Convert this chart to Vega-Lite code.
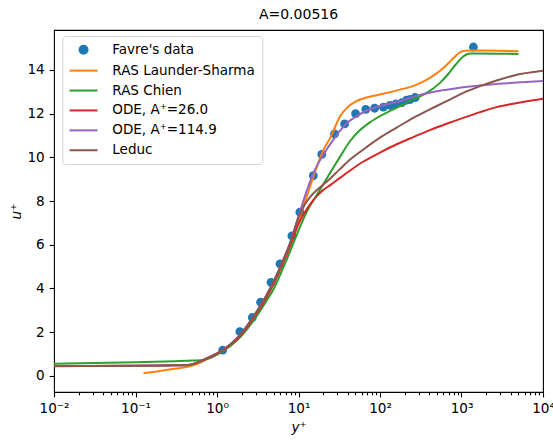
{
  "$schema": "https://vega.github.io/schema/vega-lite/v6.json",
  "width": 489,
  "height": 362,
  "autosize": "none",
  "padding": {"left": 54, "top": 30, "right": 10, "bottom": 51},
  "title": {"text": "A=0.00516", "fontSize": 14, "fontWeight": "normal", "font": "DejaVu Sans", "color": "#000", "offset": 8, "anchor": "middle"},
  "datasets": {
    "favre": [
      {"s": "Favre's data", "x": 1.175, "u": 1.18},
      {"s": "Favre's data", "x": 1.91, "u": 2.02},
      {"s": "Favre's data", "x": 2.71, "u": 2.67},
      {"s": "Favre's data", "x": 3.43, "u": 3.37},
      {"s": "Favre's data", "x": 4.6, "u": 4.28},
      {"s": "Favre's data", "x": 5.93, "u": 5.12},
      {"s": "Favre's data", "x": 8.3, "u": 6.41},
      {"s": "Favre's data", "x": 10.4, "u": 7.49},
      {"s": "Favre's data", "x": 15.2, "u": 9.16},
      {"s": "Favre's data", "x": 19.3, "u": 10.14},
      {"s": "Favre's data", "x": 27.7, "u": 11.07},
      {"s": "Favre's data", "x": 36.8, "u": 11.53},
      {"s": "Favre's data", "x": 50.2, "u": 12.0},
      {"s": "Favre's data", "x": 67, "u": 12.2},
      {"s": "Favre's data", "x": 86, "u": 12.25},
      {"s": "Favre's data", "x": 110, "u": 12.3},
      {"s": "Favre's data", "x": 133, "u": 12.38},
      {"s": "Favre's data", "x": 157, "u": 12.45},
      {"s": "Favre's data", "x": 185, "u": 12.5},
      {"s": "Favre's data", "x": 212, "u": 12.62},
      {"s": "Favre's data", "x": 235, "u": 12.65},
      {"s": "Favre's data", "x": 270, "u": 12.74},
      {"s": "Favre's data", "x": 1400, "u": 15.05}
    ],
    "curves": [
      {"s": "RAS Launder-Sharma", "x": 0.125, "u": 0.12},
      {"s": "RAS Launder-Sharma", "x": 0.2, "u": 0.22},
      {"s": "RAS Launder-Sharma", "x": 0.3, "u": 0.32},
      {"s": "RAS Launder-Sharma", "x": 0.45, "u": 0.42},
      {"s": "RAS Launder-Sharma", "x": 0.6, "u": 0.58},
      {"s": "RAS Launder-Sharma", "x": 0.8, "u": 0.82},
      {"s": "RAS Launder-Sharma", "x": 1.0, "u": 0.98},
      {"s": "RAS Launder-Sharma", "x": 1.5, "u": 1.43},
      {"s": "RAS Launder-Sharma", "x": 2, "u": 1.88},
      {"s": "RAS Launder-Sharma", "x": 3, "u": 2.78},
      {"s": "RAS Launder-Sharma", "x": 4, "u": 3.55},
      {"s": "RAS Launder-Sharma", "x": 5, "u": 4.25},
      {"s": "RAS Launder-Sharma", "x": 6, "u": 4.9},
      {"s": "RAS Launder-Sharma", "x": 8, "u": 6.0},
      {"s": "RAS Launder-Sharma", "x": 10, "u": 7.1},
      {"s": "RAS Launder-Sharma", "x": 13, "u": 8.35},
      {"s": "RAS Launder-Sharma", "x": 16, "u": 9.35},
      {"s": "RAS Launder-Sharma", "x": 20, "u": 10.3},
      {"s": "RAS Launder-Sharma", "x": 25, "u": 10.95},
      {"s": "RAS Launder-Sharma", "x": 32, "u": 11.85},
      {"s": "RAS Launder-Sharma", "x": 40, "u": 12.3},
      {"s": "RAS Launder-Sharma", "x": 50, "u": 12.55},
      {"s": "RAS Launder-Sharma", "x": 70, "u": 12.75},
      {"s": "RAS Launder-Sharma", "x": 100, "u": 12.88},
      {"s": "RAS Launder-Sharma", "x": 176, "u": 13.1},
      {"s": "RAS Launder-Sharma", "x": 282, "u": 13.33},
      {"s": "RAS Launder-Sharma", "x": 410, "u": 13.64},
      {"s": "RAS Launder-Sharma", "x": 600, "u": 14.09},
      {"s": "RAS Launder-Sharma", "x": 800, "u": 14.55},
      {"s": "RAS Launder-Sharma", "x": 950, "u": 14.8},
      {"s": "RAS Launder-Sharma", "x": 1100, "u": 14.88},
      {"s": "RAS Launder-Sharma", "x": 1400, "u": 14.89},
      {"s": "RAS Launder-Sharma", "x": 5000, "u": 14.86},
      {"s": "RAS Chien", "x": 0.01, "u": 0.55},
      {"s": "RAS Chien", "x": 0.1, "u": 0.62},
      {"s": "RAS Chien", "x": 0.3, "u": 0.67},
      {"s": "RAS Chien", "x": 0.5, "u": 0.7},
      {"s": "RAS Chien", "x": 0.7, "u": 0.74},
      {"s": "RAS Chien", "x": 0.85, "u": 0.84},
      {"s": "RAS Chien", "x": 1.0, "u": 0.97},
      {"s": "RAS Chien", "x": 1.5, "u": 1.4},
      {"s": "RAS Chien", "x": 2, "u": 1.83},
      {"s": "RAS Chien", "x": 3, "u": 2.68},
      {"s": "RAS Chien", "x": 4, "u": 3.4},
      {"s": "RAS Chien", "x": 5, "u": 4.0},
      {"s": "RAS Chien", "x": 6, "u": 4.65},
      {"s": "RAS Chien", "x": 8, "u": 5.75},
      {"s": "RAS Chien", "x": 10, "u": 6.65},
      {"s": "RAS Chien", "x": 13, "u": 7.6},
      {"s": "RAS Chien", "x": 16, "u": 8.15},
      {"s": "RAS Chien", "x": 20, "u": 8.75},
      {"s": "RAS Chien", "x": 25, "u": 9.35},
      {"s": "RAS Chien", "x": 32, "u": 10.0},
      {"s": "RAS Chien", "x": 43, "u": 10.75},
      {"s": "RAS Chien", "x": 57, "u": 11.25},
      {"s": "RAS Chien", "x": 75, "u": 11.6},
      {"s": "RAS Chien", "x": 100, "u": 11.89},
      {"s": "RAS Chien", "x": 176, "u": 12.35},
      {"s": "RAS Chien", "x": 256, "u": 12.65},
      {"s": "RAS Chien", "x": 374, "u": 12.95},
      {"s": "RAS Chien", "x": 545, "u": 13.41},
      {"s": "RAS Chien", "x": 700, "u": 13.85},
      {"s": "RAS Chien", "x": 850, "u": 14.25},
      {"s": "RAS Chien", "x": 1050, "u": 14.62},
      {"s": "RAS Chien", "x": 1270, "u": 14.76},
      {"s": "RAS Chien", "x": 1500, "u": 14.76},
      {"s": "RAS Chien", "x": 5000, "u": 14.73},
      {"s": "ODE, A⁺=26.0", "x": 0.01, "u": 0.44},
      {"s": "ODE, A⁺=26.0", "x": 0.1, "u": 0.46},
      {"s": "ODE, A⁺=26.0", "x": 0.3, "u": 0.48},
      {"s": "ODE, A⁺=26.0", "x": 0.45, "u": 0.5},
      {"s": "ODE, A⁺=26.0", "x": 0.6, "u": 0.62},
      {"s": "ODE, A⁺=26.0", "x": 0.8, "u": 0.84},
      {"s": "ODE, A⁺=26.0", "x": 1.0, "u": 1.0},
      {"s": "ODE, A⁺=26.0", "x": 1.5, "u": 1.45},
      {"s": "ODE, A⁺=26.0", "x": 2, "u": 1.9},
      {"s": "ODE, A⁺=26.0", "x": 3, "u": 2.8},
      {"s": "ODE, A⁺=26.0", "x": 4, "u": 3.55},
      {"s": "ODE, A⁺=26.0", "x": 5, "u": 4.25},
      {"s": "ODE, A⁺=26.0", "x": 6, "u": 4.9},
      {"s": "ODE, A⁺=26.0", "x": 8, "u": 6.0},
      {"s": "ODE, A⁺=26.0", "x": 10, "u": 6.95},
      {"s": "ODE, A⁺=26.0", "x": 13, "u": 7.7},
      {"s": "ODE, A⁺=26.0", "x": 16, "u": 8.15},
      {"s": "ODE, A⁺=26.0", "x": 20, "u": 8.5},
      {"s": "ODE, A⁺=26.0", "x": 25, "u": 8.75},
      {"s": "ODE, A⁺=26.0", "x": 32, "u": 9.05},
      {"s": "ODE, A⁺=26.0", "x": 43, "u": 9.4},
      {"s": "ODE, A⁺=26.0", "x": 62, "u": 9.8},
      {"s": "ODE, A⁺=26.0", "x": 100, "u": 10.22},
      {"s": "ODE, A⁺=26.0", "x": 160, "u": 10.6},
      {"s": "ODE, A⁺=26.0", "x": 256, "u": 10.93},
      {"s": "ODE, A⁺=26.0", "x": 410, "u": 11.25},
      {"s": "ODE, A⁺=26.0", "x": 658, "u": 11.54},
      {"s": "ODE, A⁺=26.0", "x": 1050, "u": 11.81},
      {"s": "ODE, A⁺=26.0", "x": 1690, "u": 12.07},
      {"s": "ODE, A⁺=26.0", "x": 2700, "u": 12.3},
      {"s": "ODE, A⁺=26.0", "x": 4300, "u": 12.45},
      {"s": "ODE, A⁺=26.0", "x": 10000, "u": 12.68},
      {"s": "ODE, A⁺=114.9", "x": 0.01, "u": 0.45},
      {"s": "ODE, A⁺=114.9", "x": 0.1, "u": 0.46},
      {"s": "ODE, A⁺=114.9", "x": 0.3, "u": 0.48},
      {"s": "ODE, A⁺=114.9", "x": 0.45, "u": 0.5},
      {"s": "ODE, A⁺=114.9", "x": 0.6, "u": 0.64},
      {"s": "ODE, A⁺=114.9", "x": 0.8, "u": 0.86},
      {"s": "ODE, A⁺=114.9", "x": 1.0, "u": 1.03},
      {"s": "ODE, A⁺=114.9", "x": 1.5, "u": 1.48},
      {"s": "ODE, A⁺=114.9", "x": 2, "u": 1.95},
      {"s": "ODE, A⁺=114.9", "x": 3, "u": 2.88},
      {"s": "ODE, A⁺=114.9", "x": 4, "u": 3.65},
      {"s": "ODE, A⁺=114.9", "x": 5, "u": 4.35},
      {"s": "ODE, A⁺=114.9", "x": 6, "u": 5.0},
      {"s": "ODE, A⁺=114.9", "x": 8, "u": 6.15},
      {"s": "ODE, A⁺=114.9", "x": 10, "u": 7.3},
      {"s": "ODE, A⁺=114.9", "x": 13, "u": 8.6},
      {"s": "ODE, A⁺=114.9", "x": 16, "u": 9.45},
      {"s": "ODE, A⁺=114.9", "x": 20, "u": 10.1},
      {"s": "ODE, A⁺=114.9", "x": 25, "u": 10.65},
      {"s": "ODE, A⁺=114.9", "x": 32, "u": 11.2},
      {"s": "ODE, A⁺=114.9", "x": 40, "u": 11.6},
      {"s": "ODE, A⁺=114.9", "x": 50, "u": 11.85},
      {"s": "ODE, A⁺=114.9", "x": 65, "u": 12.1},
      {"s": "ODE, A⁺=114.9", "x": 100, "u": 12.35},
      {"s": "ODE, A⁺=114.9", "x": 176, "u": 12.57},
      {"s": "ODE, A⁺=114.9", "x": 300, "u": 12.85},
      {"s": "ODE, A⁺=114.9", "x": 658, "u": 13.1},
      {"s": "ODE, A⁺=114.9", "x": 1690, "u": 13.29},
      {"s": "ODE, A⁺=114.9", "x": 4300, "u": 13.41},
      {"s": "ODE, A⁺=114.9", "x": 10000, "u": 13.5},
      {"s": "Leduc", "x": 0.01, "u": 0.45},
      {"s": "Leduc", "x": 0.1, "u": 0.46},
      {"s": "Leduc", "x": 0.3, "u": 0.48},
      {"s": "Leduc", "x": 0.45, "u": 0.5},
      {"s": "Leduc", "x": 0.6, "u": 0.64},
      {"s": "Leduc", "x": 0.8, "u": 0.86},
      {"s": "Leduc", "x": 1.0, "u": 1.03},
      {"s": "Leduc", "x": 1.5, "u": 1.48},
      {"s": "Leduc", "x": 2, "u": 1.95},
      {"s": "Leduc", "x": 3, "u": 2.88},
      {"s": "Leduc", "x": 4, "u": 3.65},
      {"s": "Leduc", "x": 5, "u": 4.35},
      {"s": "Leduc", "x": 6, "u": 5.0},
      {"s": "Leduc", "x": 8, "u": 6.15},
      {"s": "Leduc", "x": 10, "u": 7.25},
      {"s": "Leduc", "x": 12, "u": 7.85},
      {"s": "Leduc", "x": 14, "u": 8.2},
      {"s": "Leduc", "x": 18, "u": 8.6},
      {"s": "Leduc", "x": 24, "u": 9.0},
      {"s": "Leduc", "x": 32, "u": 9.45},
      {"s": "Leduc", "x": 43, "u": 9.9},
      {"s": "Leduc", "x": 62, "u": 10.35},
      {"s": "Leduc", "x": 100, "u": 10.9},
      {"s": "Leduc", "x": 160, "u": 11.36},
      {"s": "Leduc", "x": 256, "u": 11.81},
      {"s": "Leduc", "x": 410, "u": 12.2},
      {"s": "Leduc", "x": 658, "u": 12.57},
      {"s": "Leduc", "x": 1050, "u": 12.95},
      {"s": "Leduc", "x": 1690, "u": 13.26},
      {"s": "Leduc", "x": 2700, "u": 13.52},
      {"s": "Leduc", "x": 4300, "u": 13.74},
      {"s": "Leduc", "x": 10000, "u": 13.96}
    ]
  },
  "encoding": {
    "x": {
      "field": "x", "type": "quantitative",
      "scale": {"type": "log", "domain": [0.01, 10000], "nice": false},
      "axis": {
        "title": "y⁺",
        "values": [0.01,0.02,0.03,0.04,0.05,0.06,0.07,0.08,0.09,0.1,0.2,0.3,0.4,0.5,0.6,0.7,0.8,0.9,1,2,3,4,5,6,7,8,9,10,20,30,40,50,60,70,80,90,100,200,300,400,500,600,700,800,900,1000,2000,3000,4000,5000,6000,7000,8000,9000,10000],
        "labelExpr": "datum.value == 0.01 ? '10⁻²' : datum.value == 0.1 ? '10⁻¹' : datum.value == 1 ? '10⁰' : datum.value == 10 ? '10¹' : datum.value == 100 ? '10²' : datum.value == 1000 ? '10³' : datum.value == 10000 ? '10⁴' : ''",
        "tickSize": {"condition": {"test": "indexof([0.01,0.1,1,10,100,1000,10000], datum.value) >= 0", "value": 4.9}, "value": 2.8},
        "labelOverlap": false,
        "labelFlush": false,
        "labelPadding": 4.9,
        "titlePadding": 5
      }
    },
    "y": {
      "field": "u", "type": "quantitative",
      "scale": {"domain": [-0.74, 15.83], "nice": false, "zero": false},
      "axis": {"title": "u⁺", "values": [0,2,4,6,8,10,12,14], "labelPadding": 4.9, "titlePadding": 3}
    },
    "color": {
      "field": "s", "type": "nominal",
      "scale": {
        "domain": ["Favre's data", "RAS Launder-Sharma", "RAS Chien", "ODE, A⁺=26.0", "ODE, A⁺=114.9", "Leduc"],
        "range": ["#1f77b4", "#ff7f0e", "#2ca02c", "#d62728", "#9467bd", "#8c564b"]
      },
      "legend": {
        "title": null, "orient": "none", "legendX": 8.3, "legendY": 6,
        "fillColor": "white", "strokeColor": "#d5d5d5", "cornerRadius": 3, "padding": 7,
        "labelFontSize": 13.5, "labelFont": "DejaVu Sans", "labelColor": "#000", "labelLimit": 300,
        "symbolSize": 64, "symbolStrokeWidth": 2, "symbolOffset": 7.5, "labelOffset": 22, "rowPadding": 4.9, "symbolOpacity": 1
      }
    }
  },
  "layer": [
    {
      "data": {"name": "favre"},
      "mark": {"type": "point", "filled": true, "size": 78, "opacity": 1},
      "encoding": {
        "shape": {
          "field": "s", "type": "nominal",
          "scale": {
            "domain": ["Favre's data", "RAS Launder-Sharma", "RAS Chien", "ODE, A⁺=26.0", "ODE, A⁺=114.9", "Leduc"],
            "range": ["circle", "M-3.5,0H3.5", "M-3.5,0H3.5", "M-3.5,0H3.5", "M-3.5,0H3.5", "M-3.5,0H3.5"]
          },
          "legend": {
            "title": null, "orient": "none", "legendX": 8.3, "legendY": 6,
            "fillColor": "white", "strokeColor": "#d5d5d5", "cornerRadius": 3, "padding": 7,
            "labelFontSize": 13.5, "labelFont": "DejaVu Sans", "labelColor": "#000", "labelLimit": 300,
            "symbolSize": 64, "symbolStrokeWidth": 2, "symbolOffset": 7.5, "labelOffset": 22, "rowPadding": 4.9, "symbolOpacity": 1
          }
        }
      }
    },
    {"data": {"name": "curves"}, "mark": {"type": "line", "strokeWidth": 2, "interpolate": "monotone"}}
  ],
  "config": {
    "font": "DejaVu Sans",
    "view": {"stroke": "#000", "strokeWidth": 1.1},
    "axis": {
      "grid": false, "domain": false,
      "tickColor": "#000", "tickWidth": 1.1, "tickSize": 4.9,
      "labelColor": "#000", "labelFontSize": 13.6, "labelFont": "DejaVu Sans",
      "titleColor": "#000", "titleFontSize": 13.6, "titleFont": "DejaVu Sans", "titleFontWeight": "normal", "titleFontStyle": "italic"
    }
  }
}
